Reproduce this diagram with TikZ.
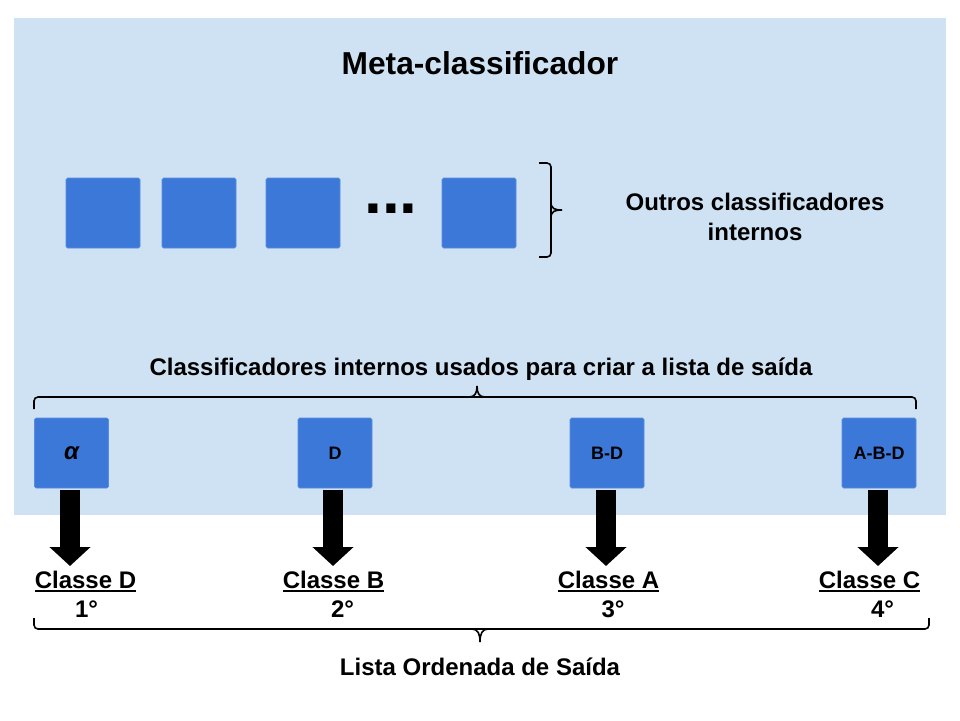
\documentclass[tikz,border=0pt]{standalone}
\usepackage{fontspec}
\setmainfont{Liberation Sans}
\usetikzlibrary{arrows.meta}
\definecolor{bgblue}{HTML}{CFE2F3}
\definecolor{boxblue}{HTML}{3C78D8}
\begin{document}
\begin{tikzpicture}[x=1pt,y=-1pt,
  clsbox/.style={fill=boxblue, draw=boxblue!85!white, line width=0.6pt, rounded corners=1.5pt,
    minimum width=74pt, minimum height=70pt, inner sep=0pt, font=\fontsize{18}{20}\selectfont\bfseries},
  lbl/.style={font=\fontsize{24}{28}\selectfont\bfseries, inner sep=0pt, anchor=base},
  bigarrow/.style={line width=20pt, -{Triangle[width=40pt,length=19pt]}},
  bracket/.style={line width=1.6pt, rounded corners=4pt},
  tipline/.style={line width=1.6pt}]
\useasboundingbox (0,0) rectangle (960,720);
\fill[bgblue] (14,18) rectangle (946,515);
% title
\node[lbl] (title) at (480,74) {\fontsize{31.7}{36}\selectfont Meta-classificador};
% top row of classifiers
\node[clsbox] (c1) at (103,213) {};
\node[clsbox] (c2) at (199,213) {};
\node[clsbox] (c3) at (303,213) {};
\node[lbl, font=\fontsize{64}{64}\selectfont\bfseries] (dots) at (391,213) {...};
\node[clsbox] (c4) at (479,213) {};
% right brace
\draw[bracket] (539,163) -- (551,163) -- (551,257) -- (539,257);
\draw[tipline] (551,202) .. controls (551,209) and (555,210) .. (562,210);
\draw[tipline] (551,218) .. controls (551,211) and (555,210) .. (562,210);
\node[lbl] (out1) at (755,210) {Outros classificadores};
\node[lbl] (out2) at (755,240) {internos};
% middle label and brace
\node[lbl] (used) at (481,375) {Classificadores internos usados para criar a lista de saída};
\draw[bracket] (34,409) -- (34,397) -- (916,397) -- (916,409);
\draw[tipline] (469,397) .. controls (475,397) and (477,393) .. (477,386);
\draw[tipline] (485,397) .. controls (479,397) and (477,393) .. (477,386);
% bottom classifiers
\node[clsbox] (b1) at (71.5,453) {\fontsize{24}{26}\selectfont\bfseries\itshape α};
\node[clsbox] (b2) at (335,453) {D};
\node[clsbox] (b3) at (607,453) {B-D};
\node[clsbox] (b4) at (879,453) {A-B-D};
% arrows
\coordinate (s1) at (70,490);  \coordinate (t1) at (70,566);
\coordinate (s2) at (333,490); \coordinate (t2) at (333,566);
\coordinate (s3) at (606,490); \coordinate (t3) at (606,566);
\coordinate (s4) at (878,490); \coordinate (t4) at (878,566);
\draw[bigarrow] (s1) -- (t1);
\draw[bigarrow] (s2) -- (t2);
\draw[bigarrow] (s3) -- (t3);
\draw[bigarrow] (s4) -- (t4);
% class labels
\node[lbl] (k1) at (85.5,588) {Classe D};
\node[lbl] (k2) at (333.5,588) {Classe B};
\node[lbl] (k3) at (608.5,588) {Classe A};
\node[lbl] (k4) at (869.5,588) {Classe C};
\foreach \k in {k1,k2,k3,k4}{
  \draw[line width=1.8pt] ([yshift=-3.2pt]\k.base west) -- ([yshift=-3.2pt]\k.base east);
}
\node[lbl] (n1) at (86.5,617) {1°};
\node[lbl] (n2) at (342.5,617) {2°};
\node[lbl] (n3) at (613,617) {3°};
\node[lbl] (n4) at (882.5,617) {4°};
% bottom brace
\draw[bracket] (34,618) -- (34,629) -- (929,629) -- (929,618);
\draw[tipline] (472,629) .. controls (478,629) and (480,634) .. (480,642);
\draw[tipline] (488,629) .. controls (482,629) and (480,634) .. (480,642);
\node[lbl] (list) at (480,675) {Lista Ordenada de Saída};
\end{tikzpicture}
\end{document}
